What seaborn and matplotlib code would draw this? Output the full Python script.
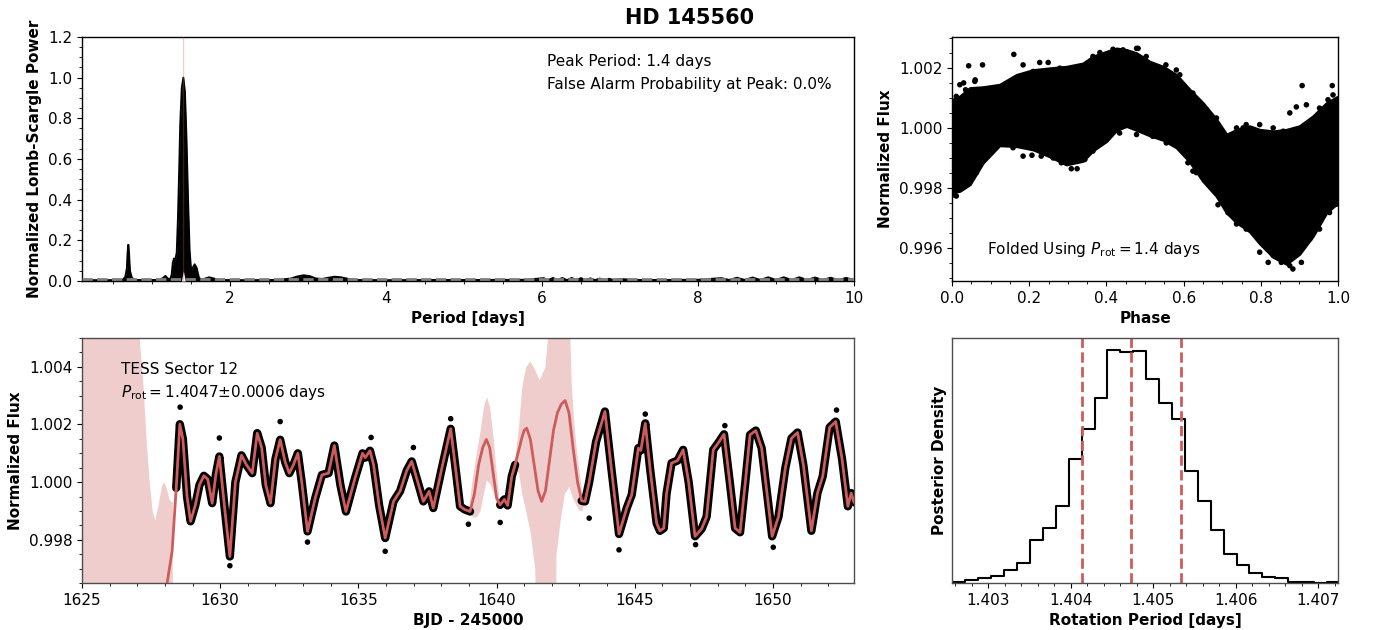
import numpy as np
import pandas as pd
import matplotlib
matplotlib.use("Agg")
import matplotlib.pyplot as plt
from matplotlib.ticker import AutoMinorLocator, FormatStrFormatter
import seaborn as sns

# ---------------- data ----------------
# Lomb-Scargle periodogram (upper envelope)
ls_period = [0.10, 0.40, 0.62, 0.655, 0.675, 0.685, 0.694, 0.703, 0.715, 0.74, 0.78, 0.95,
             1.10, 1.14, 1.17, 1.20, 1.23, 1.25, 1.265, 1.28, 1.30, 1.315, 1.33, 1.345,
             1.36, 1.38, 1.40, 1.42, 1.44, 1.46, 1.48, 1.50, 1.52, 1.545, 1.57, 1.60,
             1.64, 1.68, 1.73, 1.79, 1.86, 2.20, 2.60, 2.78, 2.86, 2.94, 3.02, 3.10,
             3.18, 3.26, 3.34, 3.42, 3.52, 3.62, 4.00, 4.60, 5.20, 5.80,
             6.02, 6.08, 6.14, 6.20, 6.26, 6.32, 6.38, 6.44, 6.50, 6.56, 6.62, 6.68,
             6.74, 6.80, 6.86, 6.92, 6.98, 7.20, 7.60, 8.00,
             8.30, 8.40, 8.50, 8.60, 8.70, 8.80, 8.90, 9.00, 9.10, 9.20, 9.30, 9.40,
             9.50, 9.60, 9.70, 9.80, 9.90, 10.0]
ls_power = [0.004, 0.004, 0.005, 0.02, 0.06, 0.14, 0.178, 0.14, 0.05, 0.015, 0.005, 0.004,
            0.006, 0.015, 0.025, 0.012, 0.008, 0.03, 0.09, 0.11, 0.11, 0.14, 0.30, 0.52,
            0.77, 0.95, 1.00, 0.93, 0.70, 0.40, 0.15, 0.05, 0.065, 0.082, 0.065, 0.015,
            0.006, 0.012, 0.018, 0.012, 0.005, 0.004, 0.005, 0.012, 0.022, 0.028, 0.024, 0.012,
            0.010, 0.016, 0.021, 0.018, 0.010, 0.005, 0.004, 0.005, 0.005, 0.006,
            0.014, 0.004, 0.015, 0.004, 0.015, 0.004, 0.015, 0.004, 0.014, 0.004, 0.013, 0.004,
            0.012, 0.004, 0.011, 0.004, 0.010, 0.005, 0.005, 0.006,
            0.014, 0.005, 0.016, 0.005, 0.017, 0.005, 0.018, 0.005, 0.018, 0.005, 0.018, 0.005,
            0.017, 0.005, 0.016, 0.005, 0.015, 0.005]
ls_notch_period = [1.375, 1.400, 1.425]
ls_notch_power = [0.0, 0.05, 0.0]
peak_period = 1.4
fap_level = 0.01

# Phase-folded light curve: extent of the dense cloud + isolated points
phase_env = [0.000, 0.020, 0.046, 0.080, 0.123, 0.167, 0.210, 0.253, 0.296, 0.339, 0.365,
             0.400, 0.426, 0.452, 0.478, 0.512, 0.547, 0.581, 0.616, 0.650, 0.685, 0.711,
             0.737, 0.771, 0.797, 0.832, 0.866, 0.900, 0.935, 0.970, 1.000]
phase_upper = [1.00094, 1.00105, 1.00133, 1.00136, 1.00144, 1.00177, 1.00193, 1.00199, 1.00204,
               1.00215, 1.00238, 1.00254, 1.00265, 1.00260, 1.00249, 1.00221, 1.00204, 1.00177,
               1.00127, 1.00083, 1.00028, 0.99978, 0.99994, 1.00006, 0.99994, 0.99989, 0.99994,
               1.00006, 1.00039, 1.00083, 1.00105]
phase_lower = [0.99785, 0.99790, 0.99812, 0.99884, 0.99942, 0.99939, 0.99928, 0.99905, 0.99878,
               0.99890, 0.99925, 0.99956, 0.99993, 1.00006, 0.99993, 0.99975, 0.99960, 0.99935,
               0.99887, 0.99823, 0.99773, 0.99718, 0.99685, 0.99655, 0.99615, 0.99570, 0.99547,
               0.99580, 0.99640, 0.99718, 0.99751]
phase_out = [0.160, 0.043, 0.079, 0.907, 0.985, 0.875, 0.892, 0.918, 0.797, 0.754, 0.309,
             0.324, 0.689, 0.883, 0.905, 0.819, 0.007, 0.478, 0.184, 0.207, 0.030, 0.060,
             0.059, 0.020, 0.035, 0.011, 0.184, 0.210, 0.227, 0.249, 0.279, 0.365, 0.383,
             0.417, 0.443, 0.482, 0.503, 0.554, 0.581, 0.590, 0.624, 0.659, 0.685, 0.737,
             0.762, 0.784, 0.832, 0.858, 0.952, 0.974, 0.987,
             0.011, 0.028, 0.041, 0.063, 0.089, 0.115, 0.158, 0.231, 0.262, 0.283, 0.331,
             0.344, 0.365, 0.400, 0.434, 0.478, 0.520, 0.555, 0.611, 0.624, 0.633, 0.680,
             0.715, 0.737, 0.762, 0.784, 0.797, 0.832, 0.853, 0.875, 0.900, 0.927, 0.952,
             0.978, 0.996]
flux_out = [1.00245, 1.00207, 1.00210, 1.00141, 1.00141, 1.00050, 1.00070, 1.00077, 1.00011,
            1.00000, 0.99864, 0.99864, 0.99744, 0.99530, 0.99552, 0.99552, 0.99776, 1.00265,
            0.99906, 0.99909, 1.00150, 1.00160,
            1.00155, 1.00144, 1.00127, 1.00105, 1.00210, 1.00188, 1.00218, 1.00218, 1.00199,
            1.00238, 1.00251, 1.00262, 1.00260, 1.00265, 1.00238, 1.00210, 1.00193, 1.00177,
            1.00116, 1.00061, 1.00033, 1.00000, 1.00011, 0.99989, 1.00000, 0.99989, 1.00066,
            1.00094, 1.00110,
            0.99773, 0.99801, 0.99812, 0.99851, 0.99906, 0.99939, 0.99934, 0.99906, 0.99900,
            0.99884, 0.99895, 0.99895, 0.99923, 0.99972, 0.99983, 0.99978, 0.99972, 0.99950,
            0.99884, 0.99856, 0.99851, 0.99790, 0.99718, 0.99680, 0.99663, 0.99652, 0.99586,
            0.99575, 0.99552, 0.99541, 0.99586, 0.99630, 0.99663, 0.99718, 0.99746]

# TESS light curve: GP model (and data track)
lc_time = [1627.90, 1628.08, 1628.26, 1628.41, 1628.54, 1628.65, 1628.80, 1628.93, 1629.10, 1629.25,
           1629.41, 1629.55, 1629.71, 1629.85, 1629.97, 1630.15, 1630.35, 1630.55, 1630.77, 1630.95,
           1631.16, 1631.34, 1631.50, 1631.65, 1631.82, 1632.00, 1632.17, 1632.35, 1632.50, 1632.65,
           1632.81, 1632.95, 1633.16, 1633.44, 1633.68, 1633.92, 1634.13, 1634.35, 1634.55, 1634.88,
           1635.15, 1635.25, 1635.42, 1635.55, 1635.75, 1635.97, 1636.27, 1636.51, 1636.75, 1636.93,
           1637.15, 1637.35, 1637.56, 1637.71, 1638.00, 1638.34, 1638.50, 1638.68, 1638.85, 1639.04,
           1639.20, 1639.35, 1639.50, 1639.63, 1639.75, 1639.88, 1640.00, 1640.13, 1640.28, 1640.40,
           1640.55, 1640.67, 1640.80, 1640.91, 1641.00, 1641.09, 1641.22, 1641.36, 1641.50, 1641.63,
           1641.77, 1641.92, 1642.06, 1642.20, 1642.34, 1642.48, 1642.62, 1642.78, 1642.93, 1643.08,
           1643.20, 1643.35, 1643.60, 1643.92, 1644.15, 1644.43, 1644.71, 1644.89, 1645.13, 1645.22,
           1645.38, 1645.55, 1645.79, 1645.91, 1646.05, 1646.15, 1646.33, 1646.55, 1646.75, 1646.95,
           1647.18, 1647.42, 1647.60, 1647.84, 1648.05, 1648.23, 1648.45, 1648.63, 1648.81, 1649.00,
           1649.17, 1649.38, 1649.59, 1649.80, 1649.97, 1650.20, 1650.45, 1650.67, 1650.89, 1651.10,
           1651.39, 1651.61, 1651.80, 1652.05, 1652.27, 1652.50, 1652.71, 1652.83, 1652.93]
lc_flux = [0.99500, 0.99650, 0.99760, 0.99980, 1.00201, 1.00150, 0.99950, 0.99864, 0.99920, 0.99990,
           1.00022, 1.00010, 0.99927, 1.00030, 1.00089, 0.99920, 0.99742, 1.00000, 1.00093, 1.00060,
           1.00031, 1.00170, 1.00120, 0.99990, 0.99927, 1.00080, 1.00147, 1.00070, 1.00031, 1.00060,
           1.00100, 1.00000, 0.99829, 0.99945, 1.00025, 1.00031, 1.00127, 0.99990, 0.99898, 1.00014,
           1.00100, 1.00085, 1.00109, 1.00060, 0.99920, 0.99806, 0.99933, 0.99969, 1.00040, 1.00072,
           1.00000, 0.99933, 0.99968, 0.99910, 1.00040, 1.00185, 1.00060, 0.99916, 0.99905, 0.99898,
           0.99960, 1.00060, 1.00120, 1.00148, 1.00120, 1.00030, 0.99945, 0.99921, 0.99940, 0.99919,
           1.00020, 1.00060, 1.00110, 1.00152, 1.00180, 1.00187, 1.00150, 1.00060, 0.99970, 0.99933,
           0.99970, 1.00080, 1.00180, 1.00240, 1.00270, 1.00283, 1.00240, 1.00110, 1.00000, 0.99935,
           0.99933, 1.00000, 1.00140, 1.00245, 1.00050, 0.99820, 0.99910, 0.99956, 1.00118, 1.00110,
           1.00204, 1.00050, 0.99858, 0.99831, 0.99840, 0.99960, 1.00066, 1.00075, 1.00112, 1.00000,
           0.99812, 0.99838, 0.99880, 1.00112, 1.00140, 1.00166, 0.99990, 0.99840, 0.99826, 1.00000,
           1.00164, 1.00179, 1.00118, 0.99950, 0.99812, 0.99880, 1.00050, 1.00152, 1.00172, 1.00060,
           0.99831, 0.99962, 1.00020, 1.00190, 1.00210, 1.00080, 0.99916, 0.99962, 0.99930]
data_windows = [(1628.40, 1639.10), (1640.05, 1640.72), (1643.08, 1652.93)]
lc_out_time = [1628.55, 1629.97, 1630.35, 1632.17, 1633.16, 1635.46, 1635.97, 1636.99, 1638.34,
               1638.98, 1640.13, 1643.35, 1644.43, 1645.38, 1647.20, 1648.26, 1650.01, 1652.30]
lc_out_flux = [1.00260, 1.00153, 0.99710, 1.00210, 0.99792, 1.00155, 0.99760, 1.00120, 1.00220,
               0.99854, 0.99860, 0.99875, 0.99765, 1.00236, 0.99783, 1.00196, 0.99774, 1.00250]

# GP 1-sigma band in the gaps
band_a_time = [1625.00, 1626.95, 1627.05, 1627.20, 1627.32, 1627.42, 1627.54, 1627.63, 1627.75,
               1627.87, 1627.95, 1628.05, 1628.15, 1628.22, 1628.27]
band_a_hi = [1.0060, 1.0060, 1.0052, 1.0035, 1.0015, 1.00014, 0.99900, 0.99869, 0.99920,
             0.99985, 1.00002, 0.99980, 0.99940, 0.99933, 0.99933]
band_a_lo = [0.9900] * 15
band_b_time = [1639.00, 1639.12, 1639.25, 1639.40, 1639.52, 1639.63, 1639.75, 1639.88, 1639.97, 1640.07]
band_b_hi = [0.99920, 1.00014, 1.00090, 1.00176, 1.00260, 1.00297, 1.00260, 1.00150, 1.00050, 0.99960]
band_b_lo = [0.99890, 0.99880, 0.99878, 0.99900, 0.99960, 1.00007, 0.99995, 0.99965, 0.99935, 0.99915]
band_c_time = [1640.67, 1640.80, 1640.91, 1641.05, 1641.21, 1641.38, 1641.54, 1641.75, 1641.93,
               1642.10, 1642.15, 1642.30, 1642.45, 1642.62, 1642.70, 1642.78, 1642.88, 1642.98,
               1643.08, 1643.15]
band_c_hi = [1.00090, 1.00200, 1.00330, 1.00400, 1.00420, 1.00390, 1.00355, 1.00400, 1.00600,
             1.00600, 1.00600, 1.00600, 1.00600, 1.00600, 1.00350, 1.00220, 1.00120, 1.00040,
             0.99965, 0.99950]
band_c_lo = [1.00050, 1.00030, 0.99960, 0.99900, 0.99830, 0.99700, 0.99000, 0.99000, 0.99000,
             0.99000, 0.99750, 0.99868, 0.99960, 0.99985, 0.99960, 0.99938, 0.99920, 0.99903,
             0.99900, 0.99920]

# Posterior of the rotation period
rot_bin_start = 1.402566
rot_bin_width = 0.0001565
rot_counts = [2, 10, 14, 22, 40, 60, 130, 166, 232, 371, 462, 555, 699, 693, 694,
              611, 540, 490, 335, 245, 160, 88, 54, 31, 19, 15, 3, 2, 1, 2]
rot_percentiles = [1.40413, 1.40473, 1.40533]

# ---------------- style ----------------
sns.set_style("ticks", rc={"axes.edgecolor": "black", "xtick.color": "black",
                           "ytick.color": "black", "text.color": "black",
                           "axes.labelcolor": "black"})
plt.rcParams.update({"font.family": ["DejaVu Sans"], "font.size": 11,
                     "axes.labelsize": 11, "axes.labelweight": "bold",
                     "xtick.labelsize": 11, "ytick.labelsize": 11,
                     "axes.linewidth": 1.0})
RED = "indianred"

fig = plt.figure(figsize=(13.78, 6.30), dpi=100)
ax1 = fig.add_axes([0.0595, 0.554, 0.5602, 0.3873])
ax2 = fig.add_axes([0.6909, 0.554, 0.2801, 0.3873])
ax3 = fig.add_axes([0.0595, 0.0746, 0.5602, 0.3889])
ax4 = fig.add_axes([0.6909, 0.0746, 0.2801, 0.3889])

fig.text(0.5007, 0.972, "HD 145560", ha="center", va="center", fontsize=15, fontweight="bold")

# ---- periodogram ----
ax1.fill_between(ls_period, 0, ls_power, color="black", lw=0, zorder=2)
sns.lineplot(x=ls_period, y=ls_power, color="black", lw=1.4, estimator=None, sort=False,
             ax=ax1, zorder=3)
ax1.fill_between(ls_notch_period, 0, ls_notch_power, color="white", lw=0, zorder=4)
ax1.axhline(fap_level, color="gray", ls="--", lw=2, zorder=5)
ax1.axvline(peak_period, color=RED, alpha=0.3, lw=1, zorder=6)
ax1.set_xlim(0.1, 10)
ax1.set_ylim(0, 1.2)
ax1.set_xticks([2, 4, 6, 8, 10])
ax1.xaxis.set_minor_locator(AutoMinorLocator())
ax1.yaxis.set_minor_locator(AutoMinorLocator())
ax1.set_xlabel("Period [days]")
ax1.set_ylabel("Normalized Lomb-Scargle Power")
ax1.text(0.602, 0.90, "Peak Period: 1.4 days", transform=ax1.transAxes, va="center")
ax1.text(0.602, 0.805, "False Alarm Probability at Peak: 0.0%", transform=ax1.transAxes,
         va="center")

# ---- phase folded ----
ax2.fill_between(phase_env, phase_lower, phase_upper, facecolor="black", edgecolor="black",
                 lw=2.0, joinstyle="round")
sns.scatterplot(x=phase_out, y=flux_out, color="black", s=16, edgecolor="none", ax=ax2)
ax2.set_xlim(0, 1)
ax2.set_ylim(0.9949, 1.00303)
ax2.set_yticks([0.996, 0.998, 1.000, 1.002])
ax2.yaxis.set_major_formatter(FormatStrFormatter("%.3f"))
ax2.xaxis.set_minor_locator(AutoMinorLocator())
ax2.yaxis.set_minor_locator(AutoMinorLocator())
ax2.set_xlabel("Phase")
ax2.set_ylabel("Normalized Flux")
ax2.text(0.09, 0.127, r"Folded Using $P_{\rm rot} = 1.4$ days", transform=ax2.transAxes,
         va="center")

# ---- light curve ----
lc = pd.DataFrame({"time": lc_time, "flux": lc_flux})
for t, hi, lo in [(band_a_time, band_a_hi, band_a_lo),
                  (band_b_time, band_b_hi, band_b_lo),
                  (band_c_time, band_c_hi, band_c_lo)]:
    ax3.fill_between(t, lo, hi, color=RED, alpha=0.3, lw=0, zorder=1)
for a, b in data_windows:
    seg = lc[(lc.time >= a) & (lc.time <= b)]
    sns.lineplot(data=seg, x="time", y="flux", color="black", lw=6, estimator=None,
                 sort=False, ax=ax3, zorder=2, solid_joinstyle="round",
                 solid_capstyle="round")
sns.scatterplot(x=lc_out_time, y=lc_out_flux, color="black", s=16, edgecolor="none",
                ax=ax3, zorder=2)
sns.lineplot(data=lc, x="time", y="flux", color=RED, lw=2, estimator=None, sort=False,
             ax=ax3, zorder=3)
ax3.set_xlim(1625, 1652.93)
ax3.set_ylim(0.9965, 1.005)
ax3.set_yticks([0.998, 1.000, 1.002, 1.004])
ax3.yaxis.set_major_formatter(FormatStrFormatter("%.3f"))
ax3.xaxis.set_minor_locator(AutoMinorLocator())
ax3.yaxis.set_minor_locator(AutoMinorLocator())
ax3.set_xlabel("BJD - 245000")
ax3.set_ylabel("Normalized Flux")
ax3.text(0.05, 0.87, "TESS Sector 12", transform=ax3.transAxes, va="center")
ax3.text(0.05, 0.776, r"$P_{\rm rot} = 1.4047{\pm}0.0006$ days", transform=ax3.transAxes,
         va="center")

# ---- posterior histogram ----
edges = rot_bin_start + rot_bin_width * np.arange(len(rot_counts) + 1)
hist_df = pd.DataFrame({"period": 0.5 * (edges[:-1] + edges[1:]),
                        "count": np.asarray(rot_counts, dtype=float)})
sns.histplot(data=hist_df, x="period", weights="count", bins=list(edges), element="step",
             fill=False, color="black", linewidth=1.5, ax=ax4)
for p in rot_percentiles:
    ax4.axvline(p, color=RED, ls="--", lw=2)
ax4.set_xlim(1.40256, 1.40724)
ax4.set_ylim(0, max(rot_counts) * 1.05)
ax4.set_xticks([1.403, 1.404, 1.405, 1.406, 1.407])
ax4.xaxis.set_major_formatter(FormatStrFormatter("%.3f"))
ax4.xaxis.set_minor_locator(AutoMinorLocator())
ax4.set_yticks([])
ax4.set_xlabel("Rotation Period [days]")
ax4.set_ylabel("Posterior Density")

for ax in (ax3, ax4):
    for s in ax.spines.values():
        s.set_color("0.3")
for ax in (ax1, ax2, ax3, ax4):
    for s in ax.spines.values():
        s.set_visible(True)

fig.savefig("out.png", dpi=100)
